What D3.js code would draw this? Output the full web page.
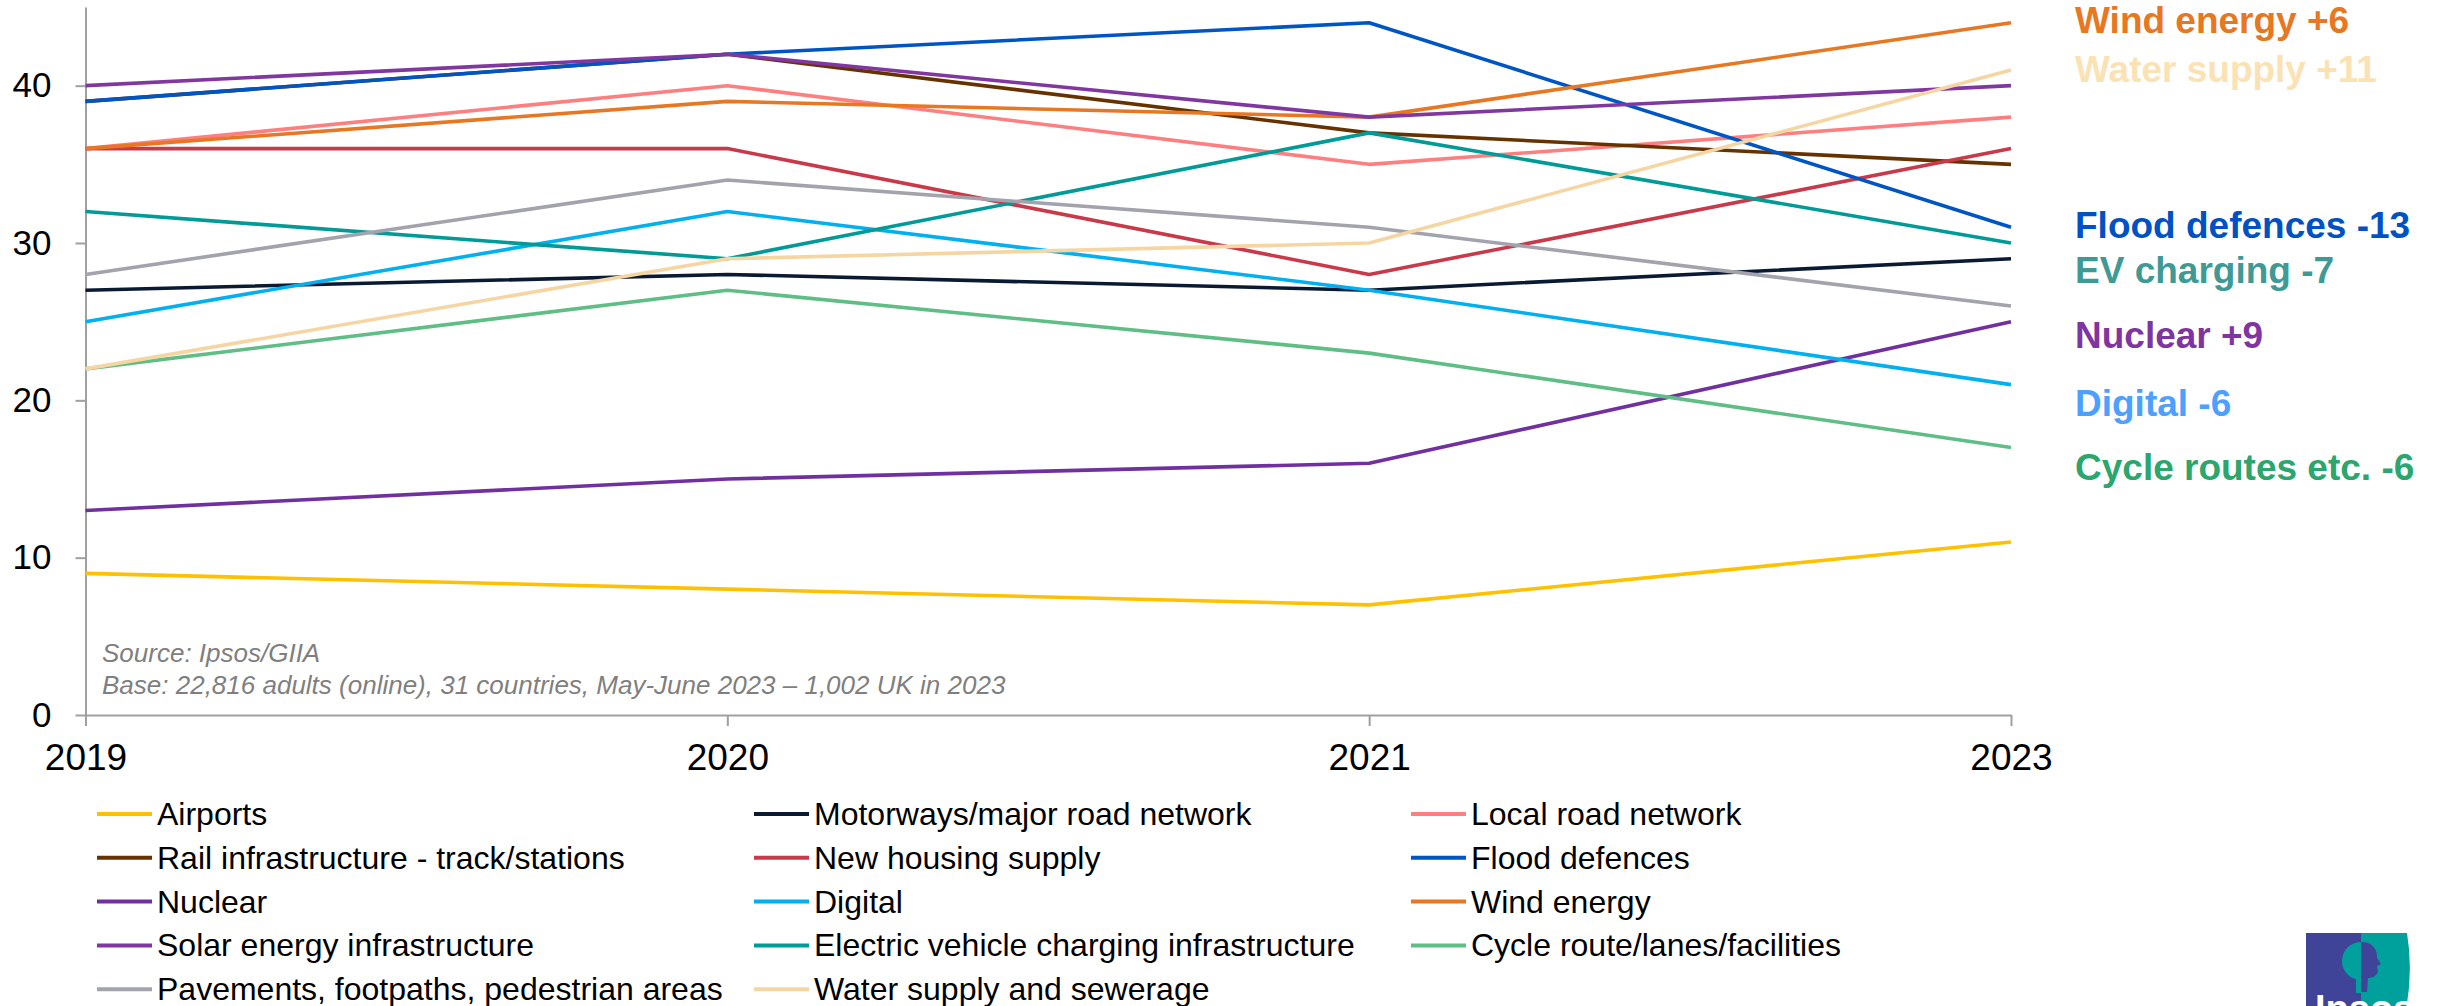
<!DOCTYPE html>
<html>
<head>
<meta charset="utf-8">
<script src="https://cdn.jsdelivr.net/npm/d3@7"></script>
<style>
  html, body { margin: 0; padding: 0; background: #ffffff; }
  svg { display: block; font-family: "Liberation Sans", Arial, sans-serif; }
</style>
</head>
<body>
<svg id="chart" width="2438" height="1006"></svg>
<script>
// Survey waves shown on the x axis
const years = ["2019", "2020", "2021", "2023"];

// Share (%) naming each infrastructure type as a priority, by wave
const airports      = [9, 8, 7, 11];
const motorways     = [27, 28, 27, 29];
const localRoads    = [36, 40, 35, 38];
const rail          = [39, 42, 37, 35];
const housing       = [36, 36, 28, 36];
const flood         = [39, 42, 44, 31];
const nuclear       = [13, 15, 16, 25];
const digital       = [25, 32, 27, 21];
const wind          = [36, 39, 38, 44];
const solar         = [40, 42, 38, 40];
const evCharging    = [32, 29, 37, 30];
const cycle         = [22, 27, 23, 17];
const pavements     = [28, 34, 31, 26];
const water         = [22, 29, 30, 41];

const seriesNames = [
  "Airports", "Motorways/major road network", "Local road network",
  "Rail infrastructure - track/stations", "New housing supply", "Flood defences",
  "Nuclear", "Digital", "Wind energy",
  "Solar energy infrastructure", "Electric vehicle charging infrastructure", "Cycle route/lanes/facilities",
  "Pavements, footpaths, pedestrian areas", "Water supply and sewerage"
];
const seriesValues = [
  airports, motorways, localRoads, rail, housing, flood, nuclear, digital,
  wind, solar, evCharging, cycle, pavements, water
];
const seriesColors = [
  "#FFC000", "#0B1A33", "#FF7F80", "#663300", "#C9394A", "#0055C4",
  "#7030A0", "#00B0F0", "#E87722", "#8037A0", "#009B96", "#5EBE85",
  "#A3A3AD", "#F5D6A3"
];

// Change callouts beside the 2023 end of the lines (change since 2021)
const calloutSeries = ["Wind energy", "Water supply and sewerage", "Flood defences",
  "Electric vehicle charging infrastructure", "Nuclear", "Digital", "Cycle route/lanes/facilities"];
const calloutText = ["Wind energy", "Water supply", "Flood defences", "EV charging",
  "Nuclear", "Digital", "Cycle routes etc."];
const calloutColors = ["#E87722", "#FBE2B4", "#0052C4", "#3F9A96", "#7F35A0", "#4DA0FF", "#2AA66E"];

const yTicks = [0, 10, 20, 30, 40];

const series = seriesNames.map((name, i) => ({
  name, color: seriesColors[i],
  points: years.map((y, j) => ({ year: y, value: seriesValues[i][j] }))
}));

const svg = d3.select("#chart");

const x = d3.scalePoint().domain(years).range([85.5, 2011]);
const y = d3.scaleLinear().domain([0, 45]).range([715, 7]);

// Axes
const axisColor = "#A0A0A0";
const yAxis = svg.append("g")
  .attr("transform", "translate(85.5,0)")
  .call(d3.axisLeft(y).tickValues(yTicks).tickSize(10).tickSizeOuter(0).tickPadding(24));
const xAxis = svg.append("g")
  .attr("transform", "translate(0,715)")
  .call(d3.axisBottom(x).tickSize(11).tickSizeOuter(0).tickPadding(18));

[yAxis, xAxis].forEach(g => {
  g.select(".domain").attr("stroke", axisColor).attr("stroke-width", 2);
  g.selectAll(".tick line").attr("stroke", axisColor).attr("stroke-width", 2);
  g.selectAll(".tick text").attr("fill", "#000").attr("font-family", "'Liberation Sans', Arial, sans-serif");
});
yAxis.selectAll(".tick text").attr("font-size", 35);
xAxis.selectAll(".tick text").attr("font-size", 37);

// Source note
const note = svg.append("g").attr("fill", "#7F7F7F").attr("font-style", "italic").attr("font-size", 26);
note.append("text").attr("x", 102).attr("y", 662).text("Source: Ipsos/GIIA");
note.append("text").attr("x", 102).attr("y", 694)
  .text("Base: 22,816 adults (online), 31 countries, May-June 2023 \u2013 1,002 UK in 2023");

// Lines
const line = d3.line().x(d => x(d.year)).y(d => y(d.value));
svg.append("g").selectAll("path").data(series).join("path")
  .attr("d", d => line(d.points))
  .attr("fill", "none")
  .attr("stroke", d => d.color)
  .attr("stroke-width", 3.6)
  .attr("stroke-linejoin", "round");

// Callouts: change between the 2021 and 2023 waves
const calloutBaselines = [33, 82, 238, 283, 348, 416, 480];
const callouts = svg.append("g").attr("font-weight", "bold").attr("font-size", 37);
calloutSeries.forEach((name, i) => {
  const vals = seriesValues[seriesNames.indexOf(name)];
  const delta = vals[3] - vals[2];
  callouts.append("text")
    .attr("x", 2075)
    .attr("y", calloutBaselines[i])
    .attr("fill", calloutColors[i])
    .text(`${calloutText[i]} ${delta > 0 ? "+" : ""}${delta}`);
});

// Legend: three columns, row-major
const legend = svg.append("g").attr("font-size", 32);
series.forEach((s, i) => {
  const col = i % 3, row = Math.floor(i / 3);
  const gx = 97 + col * 657, gy = 814 + row * 43.8;
  const item = legend.append("g").attr("transform", `translate(${gx},${gy})`);
  item.append("line").attr("x1", 0).attr("x2", 55).attr("y1", 0).attr("y2", 0)
    .attr("stroke", s.color).attr("stroke-width", 4);
  item.append("text").attr("x", 60).attr("y", 11).attr("fill", "#000").text(s.name);
});

// Ipsos logo (bottom right, partly cut off by the page edge)
const logo = svg.append("g");
const lx = 2306, ly = 933, mid = 2361;
logo.append("rect").attr("x", lx).attr("y", ly).attr("width", mid - lx + 1).attr("height", 90).attr("fill", "#3F4499");
logo.append("path")
  .attr("d", `M${mid},${ly} L2407,${ly} Q2414,975 2404,1020 L${mid},1020 Z`)
  .attr("fill", "#00A19C");
// tree crown on the left half
logo.append("path")
  .attr("d", `M${mid},942 A19,19 0 0 0 ${mid},980 Z`)
  .attr("fill", "#00A19C");
logo.append("rect").attr("x", mid - 5).attr("y", 975).attr("width", 5).attr("height", 18).attr("fill", "#00A19C");
// head profile on the right half
logo.append("path")
  .attr("d", `M${mid},942 C2372,941 2378,950 2377,958 L2381,964 L2377,966 L2378,972 C2376,977 2371,978 2368,978 L2367,992 L${mid},992 Z`)
  .attr("fill", "#3F4499");
logo.append("text").attr("x", 2315).attr("y", 1022).attr("fill", "#fff")
  .attr("font-weight", "bold").attr("font-size", 38).text("Ipsos");
</script>
</body>
</html>
